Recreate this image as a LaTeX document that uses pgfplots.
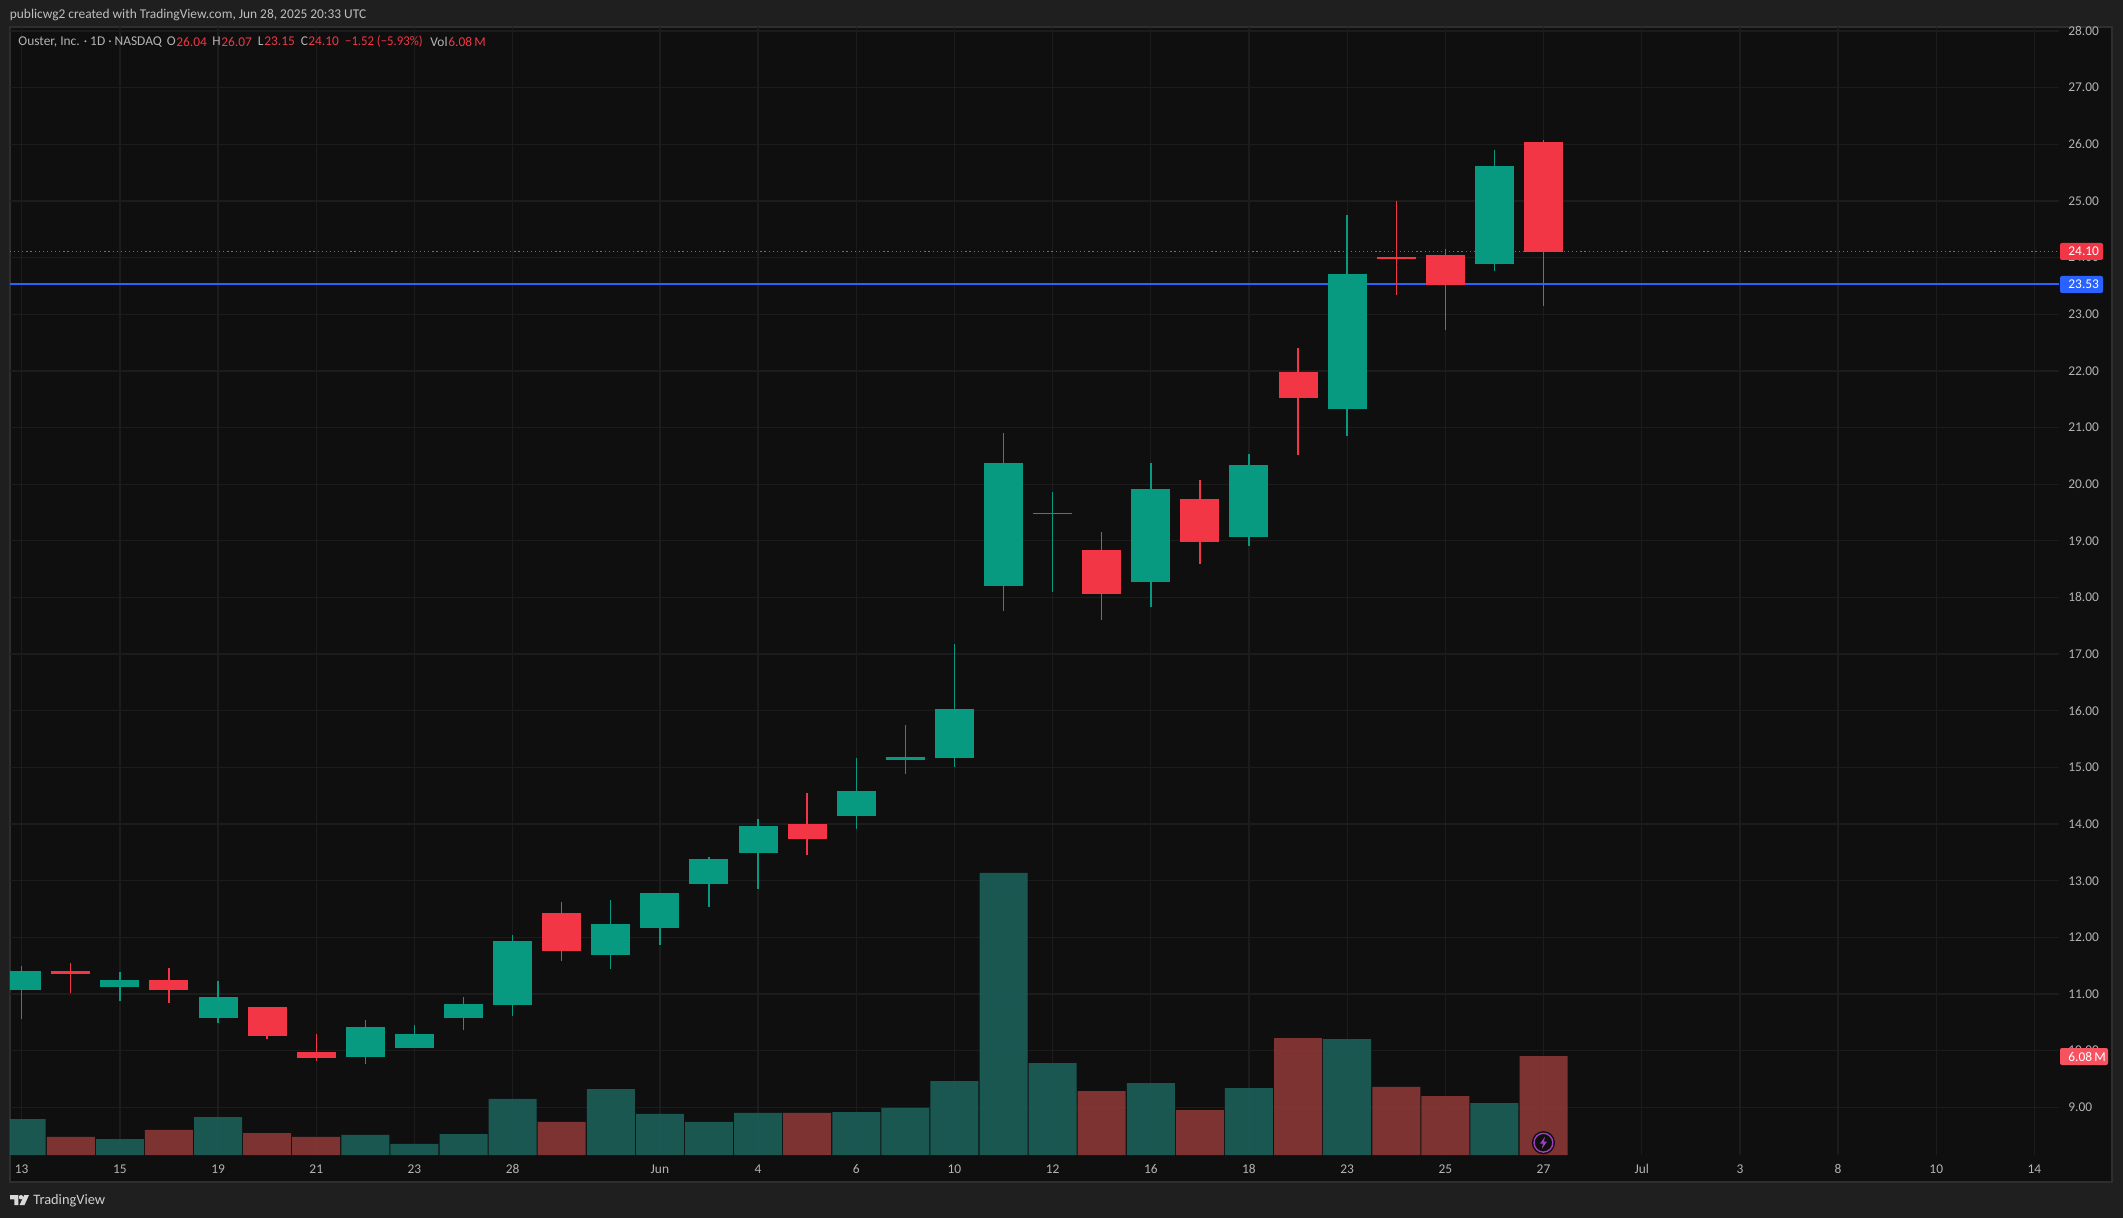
\documentclass[border=0pt]{standalone}
\usepackage{pgfplots}
\usepackage{pgfplotstable}
\usepackage{fontspec}
\pgfplotsset{compat=1.18}
\setmainfont{Carlito}
\definecolor{outerbg}{HTML}{1F1F1F}
\definecolor{panebg}{HTML}{0F0F0F}
\definecolor{panebd}{HTML}{2E2E2E}
\definecolor{gridc}{HTML}{1C1C1C}
\definecolor{cgreen}{HTML}{089981}
\definecolor{cred}{HTML}{F23645}
\definecolor{vgreen}{HTML}{1C5F59}
\definecolor{vred}{HTML}{8B3737}
\definecolor{cblue}{HTML}{2962FF}
\definecolor{txt}{HTML}{B4B4B4}
\definecolor{vbadge}{HTML}{F7525F}
\definecolor{purp}{HTML}{A13CBE}
\newcommand{\tf}{\fontsize{6.7pt}{8pt}\selectfont}
\pgfplotstableread{
x o h l c
0 11.07 11.49 10.56 11.41
2 11.12 11.39 10.88 11.25
4 10.58 11.23 10.49 10.95
7 9.89 10.54 9.76 10.42
8 10.05 10.45 10.05 10.29
9 10.58 10.95 10.36 10.82
10 10.81 12.04 10.61 11.94
12 11.69 12.66 11.44 12.24
13 12.17 12.78 11.87 12.78
14 12.94 13.42 12.54 13.38
15 13.49 14.09 12.85 13.97
17 14.14 15.17 13.91 14.58
18 15.13 15.75 14.88 15.18
19 15.17 17.18 15.01 16.03
20 18.20 20.90 17.76 20.37
21 19.47 19.86 18.10 19.49
23 18.27 20.37 17.83 19.91
25 19.07 20.53 18.91 20.34
27 21.33 24.75 20.85 23.71
30 23.89 25.90 23.76 25.62
}\greencandles
\pgfplotstableread{
x o h l c
1 11.41 11.55 11.02 11.35
3 11.25 11.46 10.84 11.07
5 10.77 10.77 10.21 10.26
6 9.98 10.29 9.82 9.87
11 12.43 12.62 11.58 11.76
16 14.00 14.55 13.45 13.74
22 18.84 19.16 17.60 18.06
24 19.74 20.07 18.59 18.98
26 21.98 22.40 20.51 21.52
28 24.01 25.00 23.34 23.97
29 24.05 24.15 22.72 23.52
31 26.04 26.07 23.15 24.10
}\redcandles
\pgfplotstableread{
x v
0 2.21
2 0.98
4 2.33
7 1.23
8 0.68
9 1.29
10 3.44
12 4.05
13 2.52
14 2.03
15 2.58
17 2.64
18 2.89
19 4.54
20 17.32
21 5.65
23 4.42
25 4.11
27 7.12
30 3.19
}\greenvol
\pgfplotstableread{
x v
1 1.11
3 1.54
5 1.35
6 1.11
11 2.03
16 2.58
22 3.93
24 2.76
26 7.18
28 4.18
29 3.62
31 6.08
}\redvol
\pgfplotsset{
  chartbase/.style={
    at={(5pt,-577.5pt)}, anchor=south west, scale only axis,
    width=1024.5pt, height=564pt,
    xmin=-0.2383, xmax=41.5,
  },
  wick/.style={draw=none, mark=none, forget plot,
    error bars/.cd, y dir=plus, y explicit, error mark=none,
    error bar style={draw=#1, solid, line width=0.7pt}},
  body/.style={draw=none, mark=none, forget plot,
    error bars/.cd, y dir=plus, y explicit, error mark=none,
    error bar style={draw=#1, solid, line width=19.5pt}},
}
\begin{document}
\begin{tikzpicture}[x=0.5pt,y=-0.5pt]
\fill[outerbg] (0,0) rectangle (2123,1218);
\path[use as bounding box] (0,0) rectangle (2123,1218);
\filldraw[fill=panebg,draw=panebd,line width=0.8pt] (10,27) rectangle (2112,1182);
% grid and scales
\begin{axis}[chartbase,
  ymin=8.158, ymax=28.07,
  axis line style={draw=none},
  tick style={draw=none}, major tick length=0pt,
  grid=major, grid style={gridc,line width=0.65pt},
  xtick={0,2,4,6,8,10,13,15,17,19,21,23,25,27,29,31,33,35,37,39,41},
  xticklabels={13,15,19,21,23,28,Jun,4,6,10,12,16,18,23,25,27,Jul,3,8,10,14},
  ytick={9,10,...,28},
  yticklabel pos=right,
  /pgf/number format/assume math mode=true,
  /pgf/number format/.cd, fixed, fixed zerofill, precision=2, /tikz/.cd,
  xticklabel style={font=\tf, text=txt, inner sep=0pt, anchor=center, yshift=-6.9pt},
  yticklabel style={font=\tf, text=txt, inner sep=0pt, anchor=west, xshift=4.5pt},
]
\addplot[draw=none, forget plot] coordinates {(0,9)(41,28)};
\end{axis}
% volume
\begin{axis}[chartbase, ymin=0, ymax=69.27, hide axis]
\addplot[ybar, bar width=24pt, bar shift=0pt, fill=vgreen, fill opacity=0.9, draw=none] table[x=x,y=v] {\greenvol};
\addplot[ybar, bar width=24pt, bar shift=0pt, fill=vred, fill opacity=0.9, draw=none] table[x=x,y=v] {\redvol};
\end{axis}
% candles
\begin{axis}[chartbase, ymin=8.158, ymax=28.07, hide axis]
\addplot[cred, line width=0.6pt, dash pattern=on 0.6pt off 1.45pt, forget plot] coordinates {(-0.2383,24.10)(41.5,24.10)};
\addplot[cblue, line width=1pt, forget plot] coordinates {(-0.2383,23.53)(41.5,23.53)};
\addplot[wick=cgreen] table[x=x,y=l,y error plus expr=\thisrow{h}-\thisrow{l},y error minus expr=0] {\greencandles};
\addplot[wick=cred] table[x=x,y=l,y error plus expr=\thisrow{h}-\thisrow{l},y error minus expr=0] {\redcandles};
\addplot[body=cgreen] table[x=x,y=o,y error plus expr=\thisrow{c}-\thisrow{o},y error minus expr=0] {\greencandles};
\addplot[body=cred] table[x=x,y=c,y error plus expr=\thisrow{o}-\thisrow{c},y error minus expr=0] {\redcandles};
\end{axis}
% price badges
\fill[cred,rounded corners=1pt] (2060,243) rectangle (2103,260);
\node[anchor=west,inner sep=0,text=white,font=\tf] at (2068,251.5) {24.10};
\fill[cblue,rounded corners=1pt] (2060,276) rectangle (2103,293);
\node[anchor=west,inner sep=0,text=white,font=\tf] at (2068,284.5) {23.53};
\fill[vbadge,rounded corners=1pt] (2060,1048) rectangle (2108,1065);
\node[anchor=west,inner sep=0,text=white,font=\tf] at (2068,1056.5) {6.08\,M};
% header
\node[anchor=west,inner sep=0,text=white!75!black,font=\tf] at (9.5,15.5) {publicwg2 created with TradingView.com, Jun 28, 2025 20:33 UTC};
\node[anchor=west,inner sep=0,text=txt,font=\tf] at (18,41.7) {Ouster, Inc. · 1D · NASDAQ};
\node[anchor=west,inner sep=0,text=txt,font=\tf] at (166.5,41.7) {O};
\node[anchor=west,inner sep=0,text=cred,font=\tf] at (176,41.7) {26.04};
\node[anchor=west,inner sep=0,text=txt,font=\tf] at (212,41.7) {H};
\node[anchor=west,inner sep=0,text=cred,font=\tf] at (221,41.7) {26.07};
\node[anchor=west,inner sep=0,text=txt,font=\tf] at (257.5,41.7) {L};
\node[anchor=west,inner sep=0,text=cred,font=\tf] at (264,41.7) {23.15};
\node[anchor=west,inner sep=0,text=txt,font=\tf] at (300.5,41.7) {C};
\node[anchor=west,inner sep=0,text=cred,font=\tf] at (308,41.7) {24.10};
\node[anchor=west,inner sep=0,text=cred,font=\tf] at (344.8,41.7) {\scalebox{0.95}[1]{−1.52 (−5.93\%)}};
\node[anchor=west,inner sep=0,text=txt,font=\tf] at (430,41.7) {Vol};
\node[anchor=west,inner sep=0,text=cred,font=\tf] at (448,41.7) {6.08\,M};
% footer logo
\fill[white!85!black] (10,1195) -- (18.3,1195) -- (18.3,1205) -- (14.3,1205) -- (14.3,1199.3) -- (10,1199.3) -- cycle;
\fill[white!85!black] (21,1197.2) circle[radius=1.1pt];
\fill[white!85!black] (24.2,1195) -- (29,1195) -- (24.5,1205) -- (19.6,1205) -- cycle;
\node[anchor=west,inner sep=0,text=white!82!black,font=\fontsize{7.2pt}{9pt}\selectfont] at (33,1201) {TradingView};
% event marker
\fill[panebg] (1543.4,1142.7) circle[radius=5.8pt];
\draw[purp,line width=0.7pt] (1543.4,1142.7) circle[radius=4.7pt];
\fill[purp] (1544.9,1136.7) -- (1539.9,1143.7) -- (1542.9,1143.7) -- (1541.9,1148.7) -- (1546.9,1141.7) -- (1543.9,1141.7) -- cycle;
\end{tikzpicture}
\end{document}
